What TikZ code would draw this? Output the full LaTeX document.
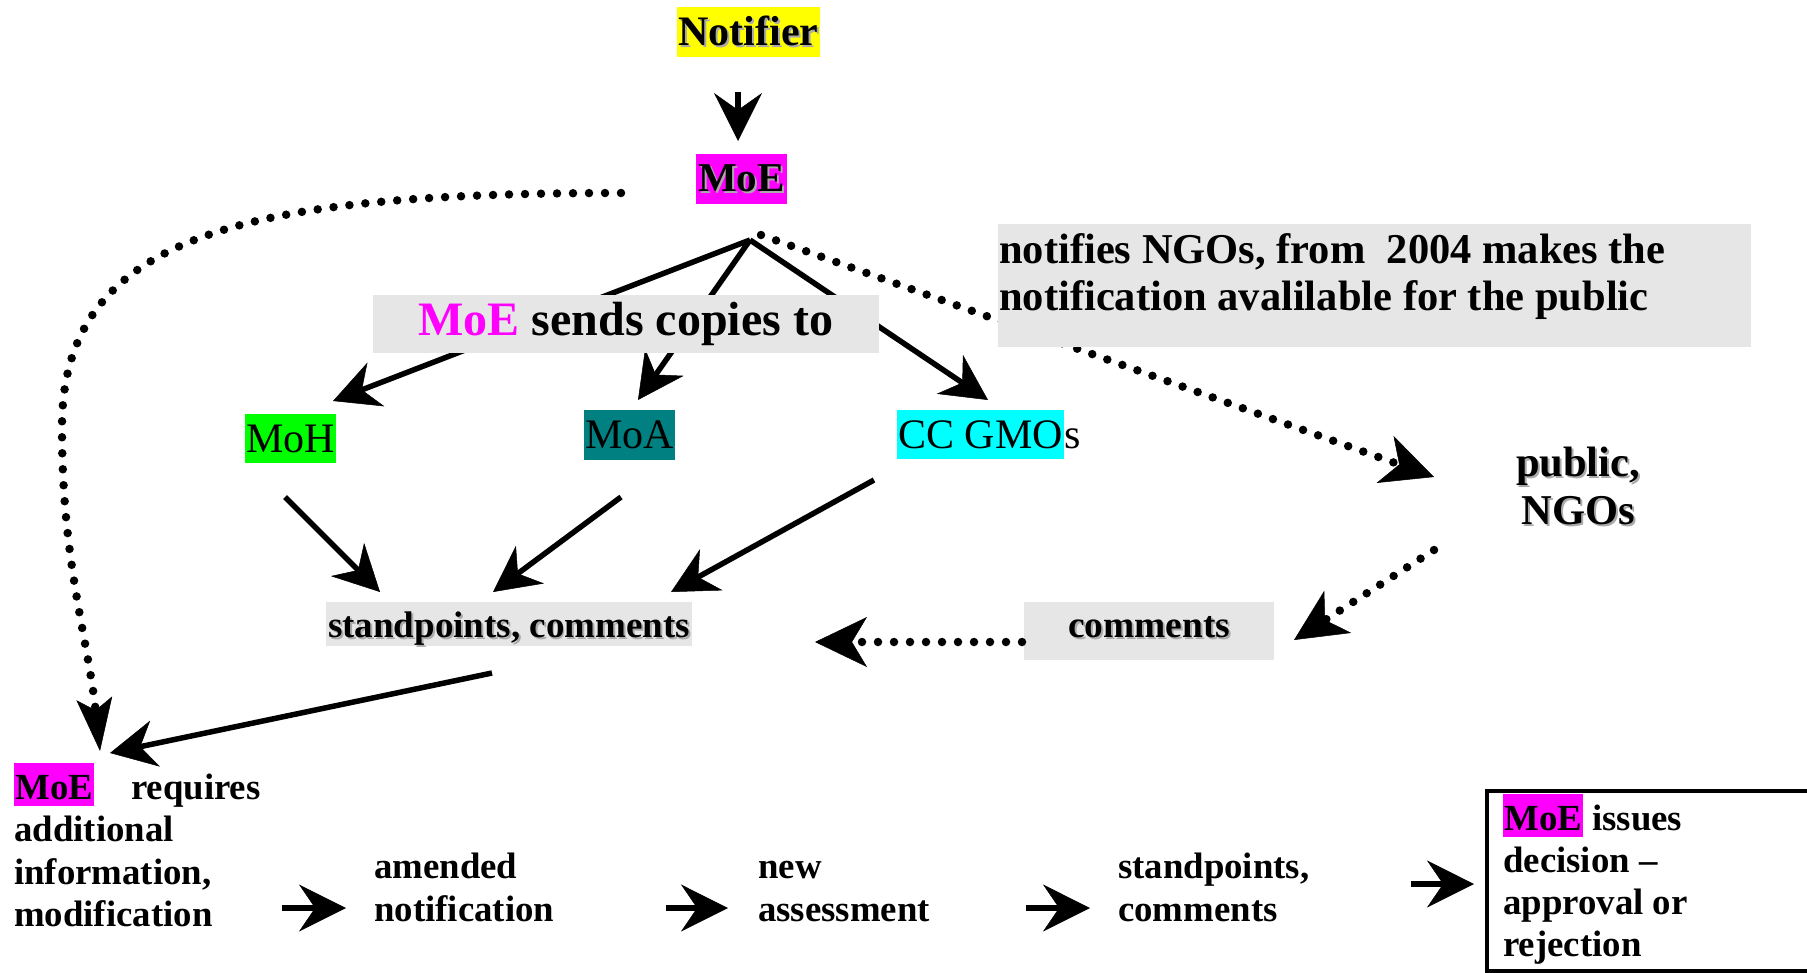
\documentclass[tikz,border=0pt]{standalone}
\usepackage{fontspec}
\setmainfont{Liberation Serif}
\usetikzlibrary{arrows.meta}

\definecolor{hlmagenta}{RGB}{255,0,255}
\definecolor{hlyellow}{RGB}{255,255,0}
\definecolor{hlgreen}{RGB}{0,255,0}
\definecolor{hlteal}{RGB}{0,128,128}
\definecolor{hlcyan}{RGB}{0,255,255}
\definecolor{panel}{RGB}{230,230,230}
\definecolor{shade}{RGB}{170,170,170}

% text with a soft grey drop shadow
\newcommand\shadowtxt[1]{\leavevmode\rlap{\kern2pt\raisebox{-2pt}{\color{shade}#1}}#1}
% highlighted word
\newcommand\hlbox[2]{{\setlength{\fboxsep}{0pt}\colorbox{#1}{\rule[-0.19em]{0pt}{1.17em}\kern0.03em#2\kern0.03em}}}
\newcommand\fsz[2]{\fontsize{#1pt}{#2pt}\selectfont}

\tikzset{
  solidarrow/.style={line width=5.5pt,
    -{Stealth[length=46pt,width=47pt,inset=15pt,line width=0.5pt]}},
  steparrow/.style={line width=5.5pt,
    -{Stealth[length=47pt,width=47pt,inset=16pt,line width=0.5pt]}},
  dotarrow/.style={line width=8.5pt, line cap=round, dash pattern=on 0pt off 16pt,
    -{Stealth[length=52pt,width=50pt,inset=15pt,line width=0.5pt]}},
  narrowdot/.style={line width=8.5pt, line cap=round, dash pattern=on 0pt off 16pt,
    -{Stealth[length=53pt,width=36pt,inset=12pt,line width=0.5pt]}},
  hlnode/.style={inner sep=0pt, minimum width=91pt, minimum height=50pt},
  panelbox/.style={fill=panel, inner sep=0pt},
  plain/.style={inner sep=0pt},
}

\begin{document}
\begin{tikzpicture}[x=1pt,y=-1pt]
\useasboundingbox (0,0) rectangle (1807,972);

% ---------- end points of the connectors ----------
\coordinate (apex) at (750,240);
\coordinate (notifOut) at (738,92);
\coordinate (moeIn) at (738,141);
\coordinate (mohIn) at (333,401);
\coordinate (moaIn) at (638,400);
\coordinate (ccIn) at (988,400);
\coordinate (pubOut) at (761,235);
\coordinate (pubIn) at (1434,477);
\coordinate (mohOut) at (285,497);
\coordinate (moaOut) at (621,497);
\coordinate (ccOut) at (874,480);
\coordinate (stH) at (380,592);
\coordinate (stA) at (493,592);
\coordinate (stC) at (671,592);
\coordinate (ngoOut) at (1434,550);
\coordinate (comIn) at (1294,640);
\coordinate (comOut) at (1022,642);
\coordinate (stIn) at (815,642);
\coordinate (loopOut) at (621,193);
\coordinate (reqDot) at (100,751);
\coordinate (stOut) at (492,673);
\coordinate (reqIn) at (110,753);
\coordinate (b1a) at (282,908);  \coordinate (b1b) at (346,908);
\coordinate (b2a) at (666,908);  \coordinate (b2b) at (728,908);
\coordinate (b3a) at (1026,908); \coordinate (b3b) at (1090,908);
\coordinate (b4a) at (1411,884); \coordinate (b4b) at (1474,884);

% ---------- connectors lying under the grey panels ----------
\draw[solidarrow] (apex) -- (mohIn);
\draw[solidarrow] (apex) -- (moaIn);
\draw[solidarrow] (apex) -- (ccIn);
\draw[dotarrow] (pubOut) -- (pubIn);

% ---------- top of the chain ----------
\node[hlnode, fill=hlyellow, minimum width=143pt, font=\bfseries\fsz{42}{48}]
  (notifier) at (748.5,32) {\shadowtxt{Notifier}};
\node[hlnode, fill=hlmagenta, font=\bfseries\fsz{41}{46}]
  (moe) at (741.5,179) {\shadowtxt{MoE}};
\draw[line width=5.5pt, -{Stealth[length=48pt,width=48pt,inset=17pt,line width=0.5pt]}]
  (notifOut) -- (moeIn);

\node[panelbox, minimum width=506pt, minimum height=58pt, font=\bfseries\fsz{48}{54}]
  (sends) at (626,324) {{\color{hlmagenta}MoE} sends copies to};

\node[panelbox, anchor=north west, minimum width=753pt, minimum height=123pt]
  (notifpanel) at (998,224) {};
\node[plain, anchor=base west, font=\bfseries\fsz{42.5}{47}] (notiftext) at (999,263)
  {\begin{tabular}[t]{@{}l@{}}notifies NGOs, from\ \ 2004 makes the\\
   notification avalilable for the public\end{tabular}};

% ---------- ministries ----------
\node[hlnode, fill=hlgreen, minimum height=49pt, font=\fsz{42}{48}]
  (moh) at (290.5,438.5) {MoH};
\node[hlnode, fill=hlteal, font=\fsz{42}{48}]
  (moa) at (629.5,435) {MoA};
\node[hlnode, fill=hlcyan, anchor=west, minimum width=0pt, minimum height=49pt,
  inner xsep=1.25pt, font=\fsz{42}{48}] (cc) at (897,434.5) {CC GMO};
\node[plain, anchor=base west, font=\fsz{42}{48}] (ccs) at (cc.base east) {s};

\node[plain, anchor=base, font=\bfseries\fsz{42.5}{48}] (public) at (1578,476)
  {\begin{tabular}[t]{@{}c@{}}\shadowtxt{public,}\\\shadowtxt{NGOs}\end{tabular}};

% ---------- comments ----------
\node[panelbox, anchor=base, minimum width=366pt, text height=35pt, text depth=9pt,
  font=\bfseries\fsz{37}{42}] (stand) at (509,637) {\shadowtxt{standpoints, comments}};
\node[panelbox, anchor=base, minimum width=250pt, text height=35pt, text depth=23pt,
  font=\bfseries\fsz{37.4}{42}] (comments) at (1149,637) {\shadowtxt{comments}};

\draw[solidarrow] (mohOut) -- (stH);
\draw[solidarrow] (moaOut) -- (stA);
\draw[solidarrow] (ccOut) -- (stC);
\draw[dotarrow] (ngoOut) -- (comIn);
\draw[dotarrow] (comOut) -- (stIn);

% ---------- back to MoE ----------
\draw[narrowdot] (loopOut) .. controls (250,193) and (60,232) .. (62,430)
  .. controls (62,560) and (88,640) .. (reqDot);
\draw[solidarrow] (stOut) -- (reqIn);

% ---------- bottom row ----------
\node[plain, anchor=base west, font=\bfseries\fsz{36.8}{42.5}] (require) at (14,799)
  {\begin{tabular}[t]{@{}l@{}}\hlbox{hlmagenta}{MoE}\hspace{37pt}requires\\
   additional\\ information,\\ modification\end{tabular}};
\node[plain, anchor=base west, font=\bfseries\fsz{36.8}{43.5}] (amended) at (374,878)
  {\begin{tabular}[t]{@{}l@{}}amended\\ notification\end{tabular}};
\node[plain, anchor=base west, font=\bfseries\fsz{36.8}{43.5}] (assess) at (758,878)
  {\begin{tabular}[t]{@{}l@{}}new\\ assessment\end{tabular}};
\node[plain, anchor=base west, font=\bfseries\fsz{36.8}{43.5}] (stand2) at (1118,878)
  {\begin{tabular}[t]{@{}l@{}}standpoints,\\ comments\end{tabular}};

\node[draw, line width=4pt, anchor=north west, inner sep=0pt,
  minimum width=360pt, minimum height=180pt] (decision) at (1485,789) {};
\node[plain, anchor=base west, font=\bfseries\fsz{36.8}{42}] (dectext) at (1503,830)
  {\begin{tabular}[t]{@{}l@{}}\hlbox{hlmagenta}{MoE} issues\\ decision --\\
   approval or\\ rejection\end{tabular}};

\draw[steparrow] (b1a) -- (b1b);
\draw[steparrow] (b2a) -- (b2b);
\draw[steparrow] (b3a) -- (b3b);
\draw[steparrow] (b4a) -- (b4b);
\end{tikzpicture}
\end{document}
